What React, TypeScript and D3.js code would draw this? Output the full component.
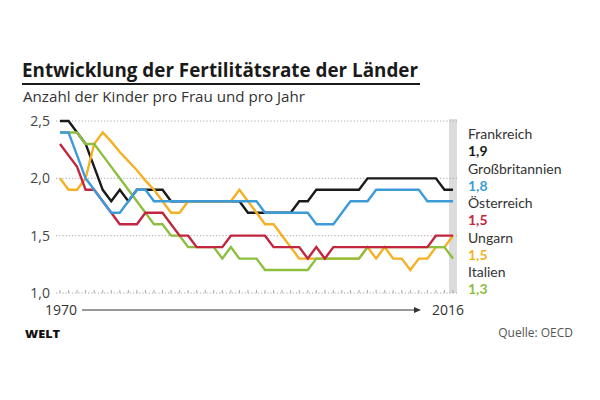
import React from "react";
import * as d3 from "d3";

const startYear = 1970;
const endYear = 2016;
const years = d3.range(startYear, endYear + 1);

const frankreich = [2.5, 2.5, 2.4, 2.3, 2.1, 1.9, 1.8, 1.9, 1.8, 1.9, 1.9, 1.9, 1.9, 1.8, 1.8, 1.8, 1.8, 1.8, 1.8, 1.8, 1.8, 1.8, 1.7, 1.7, 1.7, 1.7, 1.7, 1.7, 1.8, 1.8, 1.9, 1.9, 1.9, 1.9, 1.9, 1.9, 2.0, 2.0, 2.0, 2.0, 2.0, 2.0, 2.0, 2.0, 2.0, 1.9, 1.9];
const grossbritannien = [2.4, 2.4, 2.2, 2.0, 1.9, 1.8, 1.7, 1.7, 1.8, 1.9, 1.9, 1.8, 1.8, 1.8, 1.8, 1.8, 1.8, 1.8, 1.8, 1.8, 1.8, 1.8, 1.8, 1.8, 1.7, 1.7, 1.7, 1.7, 1.7, 1.7, 1.6, 1.6, 1.6, 1.7, 1.8, 1.8, 1.8, 1.9, 1.9, 1.9, 1.9, 1.9, 1.9, 1.8, 1.8, 1.8, 1.8];
const oesterreich = [2.3, 2.2, 2.1, 1.9, 1.9, 1.8, 1.7, 1.6, 1.6, 1.6, 1.7, 1.7, 1.7, 1.6, 1.5, 1.5, 1.4, 1.4, 1.4, 1.4, 1.5, 1.5, 1.5, 1.5, 1.5, 1.4, 1.4, 1.4, 1.4, 1.3, 1.4, 1.3, 1.4, 1.4, 1.4, 1.4, 1.4, 1.4, 1.4, 1.4, 1.4, 1.4, 1.4, 1.4, 1.5, 1.5, 1.5];
const ungarn = [2.0, 1.9, 1.9, 2.0, 2.3, 2.4, 2.32, 2.23, 2.15, 2.07, 1.98, 1.9, 1.8, 1.7, 1.7, 1.8, 1.8, 1.8, 1.8, 1.8, 1.8, 1.9, 1.8, 1.7, 1.6, 1.6, 1.5, 1.4, 1.3, 1.3, 1.3, 1.3, 1.3, 1.3, 1.3, 1.3, 1.4, 1.3, 1.4, 1.3, 1.3, 1.2, 1.3, 1.3, 1.4, 1.4, 1.5];
const italien = [2.4, 2.4, 2.4, 2.3, 2.3, 2.2, 2.1, 2.0, 1.9, 1.8, 1.7, 1.6, 1.6, 1.5, 1.5, 1.4, 1.4, 1.4, 1.4, 1.3, 1.4, 1.3, 1.3, 1.3, 1.2, 1.2, 1.2, 1.2, 1.2, 1.2, 1.3, 1.3, 1.3, 1.3, 1.3, 1.3, 1.4, 1.4, 1.4, 1.4, 1.4, 1.4, 1.4, 1.4, 1.4, 1.4, 1.3];

const countries = ["Frankreich", "Großbritannien", "Österreich", "Ungarn", "Italien"];
const lastLabels = ["1,9", "1,8", "1,5", "1,5", "1,3"];
const colors = ["#1a1a1a", "#3d9bd8", "#c2263f", "#f4b126", "#8cbf3f"];
const seriesValues = [frankreich, grossbritannien, oesterreich, ungarn, italien];
const drawOrder = [0, 3, 4, 2, 1];

const yTicks = [1.0, 1.5, 2.0, 2.5];
const yTickLabels = ["1,0", "1,5", "2,0", "2,5"];

export default function App() {
  const x = d3.scaleLinear().domain([startYear, endYear]).range([60, 453]);
  const y = d3.scaleLinear().domain([1.0, 2.5]).range([293, 121]);
  const line = d3
    .line<number>()
    .x((_, i) => x(years[i]))
    .y((d) => y(d));

  const font = "'Open Sans', Lato, sans-serif";
  const legendFont = "Lato, 'Open Sans', sans-serif";

  return (
    <svg
      width={600}
      height={400}
      style={{ position: "absolute", left: 0, top: 0, background: "#fff" }}
      fontFamily={font}
    >
      <rect x={0} y={0} width={600} height={400} fill="#fff" />
      <text x={22} y={77} fontSize={20} fontWeight={700} fill="#1a1a1a" textLength={396} lengthAdjust="spacingAndGlyphs">
        Entwicklung der Fertilitätsrate der Länder
      </text>
      <line x1={22} x2={420} y1={84} y2={84} stroke="#1a1a1a" strokeWidth={2} />
      <text x={23} y={102} fontSize={14} fill="#333" textLength={282} lengthAdjust="spacingAndGlyphs">
        Anzahl der Kinder pro Frau und pro Jahr
      </text>

      {/* grey band */}
      <rect x={449} y={y(2.5) - 2} width={8} height={y(1.0) - y(2.5) + 2} fill="#dcdcdc" />

      {/* grid */}
      {yTicks.map((t, i) => (
        <g key={t}>
          <line
            x1={56}
            x2={457}
            y1={y(t)}
            y2={y(t)}
            stroke="#a8a8a8"
            strokeWidth={1}
            strokeDasharray="1.2,2"
          />
          <text x={50} y={y(t) + 5} fontSize={14} fill="#444" textAnchor="end">
            {yTickLabels[i]}
          </text>
        </g>
      ))}
      {years.map((yr) => (
        <line key={yr} x1={x(yr)} x2={x(yr)} y1={y(1.0)} y2={y(1.0) - 3} stroke="#a8a8a8" strokeWidth={1} />
      ))}

      {/* lines */}
      {drawOrder.map((k) => (
        <path
          key={countries[k]}
          d={line(seriesValues[k]) || ""}
          fill="none"
          stroke={colors[k]}
          strokeWidth={2.4}
          strokeLinejoin="miter"
        />
      ))}

      {/* legend */}
      {countries.map((c, i) => (
        <g key={c} transform={`translate(468, ${139 + i * 34.5})`} fontFamily={legendFont}>
          <text x={0} y={0} fontSize={14} fill="#333">
            {c}
          </text>
          <text x={0} y={17} fontSize={14} fontWeight={700} fill={colors[i]}>
            {lastLabels[i]}
          </text>
        </g>
      ))}

      {/* x axis */}
      <text x={77} y={315} fontSize={14} fill="#333" textAnchor="end">
        {startYear}
      </text>
      <line x1={82} x2={416} y1={310} y2={310} stroke="#333" strokeWidth={1} />
      <path d="M 414 307 L 421 310 L 414 313 Z" fill="#333" />
      <text x={432} y={315} fontSize={14} fill="#333">
        {endYear}
      </text>

      <text x={25} y={338} fontSize={11} fontWeight={800} fill="#111" textLength={35} lengthAdjust="spacingAndGlyphs">
        WELT
      </text>
      <text x={573} y={337} fontSize={12} fill="#555" textAnchor="end">
        Quelle: OECD
      </text>
    </svg>
  );
}
